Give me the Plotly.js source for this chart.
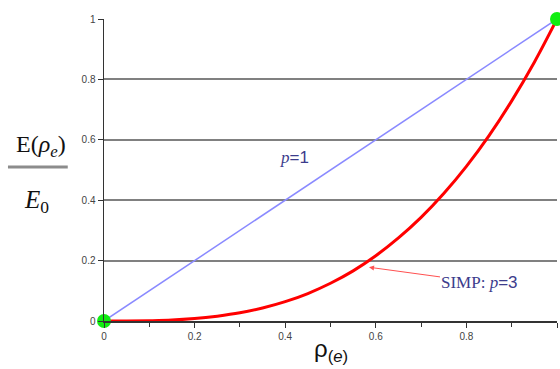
<!DOCTYPE html>
<html>
<head>
<meta charset="utf-8">
<script src="https://cdn.plot.ly/plotly-3.0.1.min.js"></script>
<style>html,body{margin:0;padding:0;background:#fff;}#chart{width:560px;height:369px;}</style>
</head>
<body>
<div id="chart"></div>
<script>
// density values
var rho = [0, 0.05, 0.1, 0.15, 0.2, 0.25, 0.3, 0.35, 0.4, 0.45, 0.5, 0.55, 0.6, 0.65, 0.7, 0.75, 0.8, 0.85, 0.9, 0.95, 1];
// p = 1 line
var linP1 = [0, 0.05, 0.1, 0.15, 0.2, 0.25, 0.3, 0.35, 0.4, 0.45, 0.5, 0.55, 0.6, 0.65, 0.7, 0.75, 0.8, 0.85, 0.9, 0.95, 1];
// SIMP p = 3 curve
var simpP3 = [0, 0.0001, 0.001, 0.003, 0.008, 0.016, 0.027, 0.043, 0.064, 0.091, 0.125, 0.166, 0.216, 0.275, 0.343, 0.422, 0.512, 0.614, 0.729, 0.857, 1];
// end points
var endX = [0, 1];
var endY = [0, 1];
var xTicks = [0, 0.2, 0.4, 0.6, 0.8, 1];
var yTicks = [0, 0.2, 0.4, 0.6, 0.8, 1];

var traces = [
  {x: rho, y: linP1, mode: 'lines', line: {color: '#8a8aff', width: 1.5}, hoverinfo: 'none'},
  {x: rho, y: simpP3, mode: 'lines', line: {color: '#ff0000', width: 3, shape: 'spline'}, hoverinfo: 'none'},
  {x: endX, y: endY, mode: 'markers', marker: {color: '#11ee11', size: 14}, cliponaxis: false, hoverinfo: 'none'}
];

var tickFont = {family: 'Liberation Sans, Arial, sans-serif', size: 10, color: '#444'};
var serif = 'Liberation Serif, Times New Roman, serif';
var layout = {
  width: 560, height: 369,
  margin: {l: 104, r: 3, t: 19, b: 48},
  paper_bgcolor: '#fff', plot_bgcolor: '#fff',
  showlegend: false,
  xaxis: {
    range: [0, 1], tickvals: xTicks, ticktext: xTicks.map(String),
    showgrid: false, zeroline: false, showline: true, linecolor: '#333', linewidth: 1.5,
    ticks: 'outside', ticklen: 5, tickcolor: '#333', tickfont: tickFont,
    minor: {dtick: 0.1, ticks: 'outside', ticklen: 4, tickcolor: '#333', showgrid: false}
  },
  yaxis: {
    range: [0, 1], tickvals: yTicks, ticktext: yTicks.map(String),
    showgrid: true, gridcolor: '#808080', gridwidth: 2, zeroline: false,
    showline: true, linecolor: '#333', linewidth: 1.5,
    ticks: 'outside', ticklen: 5, tickcolor: '#333', tickfont: tickFont
  },
  shapes: [
    {type: 'line', xref: 'paper', yref: 'paper', x0: -0.212, x1: -0.08, y0: 0.51, y1: 0.51, line: {color: '#8c8c8c', width: 3}}
  ],
  annotations: [
    {xref: 'paper', yref: 'paper', x: -0.139, y: 0.578, xanchor: 'center', yanchor: 'middle', showarrow: false,
     text: 'E(<i>ρ</i><sub><i>e</i></sub>)', font: {family: serif, size: 24, color: '#111'}},
    {xref: 'paper', yref: 'paper', x: -0.148, y: 0.395, xanchor: 'center', yanchor: 'middle', showarrow: false,
     text: '<i>E</i><sub>0</sub>', font: {family: serif, size: 25, color: '#111'}},
    {xref: 'paper', yref: 'paper', x: 0.501, y: -0.098, xanchor: 'center', yanchor: 'middle', showarrow: false,
     text: 'ρ<sub>(<i>e</i>)</sub>', font: {family: 'Liberation Sans, Arial, sans-serif', size: 24, color: '#111'}},
    {xref: 'x', yref: 'y', x: 0.42, y: 0.54, xanchor: 'center', yanchor: 'middle', showarrow: false,
     text: '<i><span style="font-family:Liberation Serif">p</span></i>=1', font: {family: 'Liberation Sans, Arial, sans-serif', size: 17, color: '#3c3c8c'}},
    {xref: 'x', yref: 'y', x: 0.585, y: 0.178, axref: 'x', ayref: 'y', ax: 0.83, ay: 0.128,
     showarrow: true, arrowhead: 2, arrowsize: 1, arrowwidth: 1, arrowcolor: '#ff5050',
     text: '<span style="font-family:Liberation Serif">SIMP: <i>p</i></span>=3', font: {family: 'Liberation Sans, Arial, sans-serif', size: 17, color: '#3c3c8c'}}
  ]
};
Plotly.newPlot('chart', traces, layout, {displayModeBar: false, staticPlot: true});
</script>
</body>
</html>
